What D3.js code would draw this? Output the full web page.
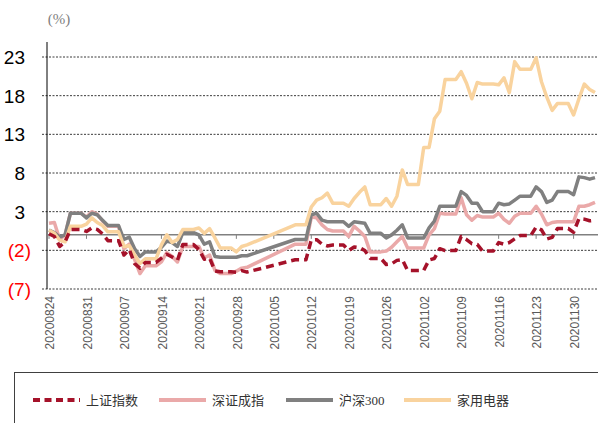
<!DOCTYPE html>
<html>
<head>
<meta charset="utf-8">
<script src="https://cdn.jsdelivr.net/npm/d3@7"></script>
<style>
  body { margin: 0; background: #fff; }
  svg { display: block; }
</style>
</head>
<body>
<svg id="svg"></svg>
<script>
// trading days shown on the chart
const dates = [
  "20200824","20200825","20200826","20200827","20200828",
  "20200831","20200901","20200902","20200903","20200904",
  "20200907","20200908","20200909","20200910","20200911",
  "20200914","20200915","20200916","20200917","20200918",
  "20200921","20200922","20200923","20200924","20200925",
  "20200928","20200929","20200930",
  "20201009",
  "20201012","20201013","20201014","20201015","20201016",
  "20201019","20201020","20201021","20201022","20201023",
  "20201026","20201027","20201028","20201029","20201030",
  "20201102","20201103","20201104","20201105","20201106",
  "20201109","20201110","20201111","20201112","20201113",
  "20201116","20201117","20201118","20201119","20201120",
  "20201123","20201124","20201125","20201126","20201127",
  "20201130","20201201","20201202","20201203","20201204"
];

// cumulative change, %
const shIndex = [
  0.15,-0.21,-1.51,-0.90,0.68,
  0.44,0.89,0.71,0.13,-0.75,
  -2.61,-1.90,-3.73,-4.31,-3.56,
  -3.01,-2.51,-2.86,-3.26,-1.26,
  -1.89,-3.15,-2.99,-4.66,-4.77,
  -4.83,-4.62,-4.81,
  -3.21,
  -0.66,-0.62,-1.20,-1.43,-1.31,
  -2.02,-1.56,-1.65,-2.03,-3.04,
  -3.83,-3.74,-3.30,-3.19,-4.62,
  -4.60,-3.24,-3.05,-1.79,-2.03,
  -0.21,-0.61,-1.14,-1.24,-2.09,
  -1.00,-1.21,-0.99,-0.52,-0.09,
  1.00,0.65,-0.54,-0.32,0.82,
  0.33,2.11,2.03,1.82,1.89
];
const szIndex = [
  1.5,1.6,-0.6,0.0,2.8,
  2.3,3.0,2.7,1.8,1.1,
  -1.8,-1.2,-3.2,-5.0,-4.0,
  -3.5,-2.3,-2.8,-3.5,-1.5,
  -1.5,-3.0,-2.6,-4.6,-5.0,
  -4.7,-4.3,-4.2,
  -1.2,
  2.3,2.2,1.3,0.7,0.5,
  -0.2,1.1,0.5,-0.2,-2.2,
  -2.1,-1.6,-0.9,-0.2,-1.7,
  -1.7,0.0,0.8,2.8,2.7,
  4.8,2.6,1.9,2.5,2.3,
  2.8,2.0,1.5,2.4,2.8,
  3.7,2.7,1.3,1.6,1.7,
  1.7,3.7,3.7,3.9,4.2
];
const hs300 = [
  0.6,0.3,-0.3,0.0,2.8,
  2.2,2.8,2.6,1.9,1.2,
  -0.6,-0.3,-1.8,-2.8,-2.2,
  -1.6,-0.8,-1.0,-1.5,0.3,
  0.0,-1.2,-0.9,-2.8,-2.9,
  -2.9,-2.7,-2.7,
  -0.6,
  2.6,2.8,1.9,1.7,1.7,
  1.1,1.7,1.6,1.5,0.2,
  -0.4,0.0,0.6,1.3,-0.4,
  -0.4,0.9,1.8,3.7,3.7,
  5.6,5.1,4.1,4.1,3.0,
  4.1,3.9,4.0,4.5,5.0,
  6.2,5.6,4.2,4.5,5.6,
  5.2,7.5,7.4,7.2,7.4
];
const appliances = [
  0.6,0.2,-0.7,-0.9,1.1,
  1.4,2.2,1.6,1.2,0.4,
  -1.5,-1.4,-2.6,-3.7,-3.1,
  -1.3,0.0,-1.0,-0.6,0.7,
  0.9,0.2,0.8,-0.4,-1.7,
  -2.2,-1.5,-1.3,
  1.3,
  3.6,4.5,4.8,5.4,4.1,
  3.7,4.7,5.5,6.2,3.9,
  4.7,3.7,5.0,8.4,6.5,
  11.3,11.3,15.0,16.0,20.1,
  21.1,19.6,17.6,19.7,19.5,
  19.4,20.3,18.4,22.4,21.4,
  22.9,19.8,17.8,16.1,17.0,
  15.5,17.6,19.5,18.8,18.4
];

const seriesNames = ["上证指数", "深证成指", "沪深300", "家用电器"];
const yTicks = [23, 18, 13, 8, 3, -2, -7];
const xTickLabels = [
  "20200824","20200831","20200907","20200914","20200921","20200928","20201005",
  "20201012","20201019","20201026","20201102","20201109","20201116","20201123","20201130"
];

const width = 598, height = 423;
const parse = d3.timeParse("%Y%m%d");

const x = d3.scaleTime()
  .domain([parse("20200824"), parse("20201204")])
  .range([49, 595]);
const y = d3.scaleLinear().domain([-7, 23]).range([289, 57]);

const svg = d3.select('#svg')
  .attr('width', width)
  .attr('height', height);

// grid
svg.selectAll('line.grid')
  .data(yTicks)
  .enter()
  .append('line')
    .attr('class', 'grid')
    .attr('x1', 42).attr('x2', 598)
    .attr('y1', d => y(d)).attr('y2', d => y(d))
    .attr('stroke', '#3a3a3a')
    .attr('stroke-width', 1)
    .attr('stroke-dasharray', '2,1.5');

svg.selectAll('text.ytick')
  .data(yTicks)
  .enter()
  .append('text')
    .attr('class', 'ytick')
    .attr('x', d => d < 0 ? 31 : 25)
    .attr('y', d => y(d))
    .attr('dy', '0.36em')
    .attr('text-anchor', 'end')
    .style('font-family', "'Liberation Sans Narrow', 'Liberation Sans', sans-serif")
    .style('font-size', '19px')
    .attr('fill', d => d < 0 ? '#ff0000' : '#000')
    .text(d => d < 0 ? `(${-d})` : d);

svg.append('text')
  .attr('x', 59).attr('y', 24)
  .attr('text-anchor', 'middle')
  .style('font-family', "'Liberation Serif', serif")
  .style('font-size', '15px')
  .attr('fill', '#7f7f7f')
  .text('(%)');

// y axis
svg.append('line')
  .attr('x1', 47).attr('x2', 47)
  .attr('y1', 42).attr('y2', 289)
  .attr('stroke', '#000').attr('stroke-width', 1);

// zero line with weekly ticks
const y0 = y(0);
svg.append('line')
  .attr('x1', 47).attr('x2', 598)
  .attr('y1', y0).attr('y2', y0)
  .attr('stroke', '#808080').attr('stroke-width', 1.5);

svg.selectAll('line.xtick')
  .data(xTickLabels)
  .enter()
  .append('line')
    .attr('class', 'xtick')
    .attr('x1', d => x(parse(d))).attr('x2', d => x(parse(d)))
    .attr('y1', y0).attr('y2', y0 + 4)
    .attr('stroke', '#808080').attr('stroke-width', 1);

svg.selectAll('text.xlabel')
  .data(xTickLabels)
  .enter()
  .append('text')
    .attr('class', 'xlabel')
    .attr('transform', d => `translate(${x(parse(d)) + 1},296) rotate(-90)`)
    .attr('dy', '0.35em')
    .attr('text-anchor', 'end')
    .style('font-family', "'Liberation Sans', sans-serif")
    .style('font-size', '12px')
    .attr('fill', '#595959')
    .text(d => d);

// lines: weekends carry Friday's value, holiday gap is joined straight
const DAY = 864e5;
function points(values) {
  const pts = [];
  dates.forEach((s, i) => {
    const d = parse(s);
    pts.push({ date: d, v: values[i] });
    if (i < dates.length - 1) {
      const next = parse(dates[i + 1]);
      if (Math.round((next - d) / DAY) === 3) {
        pts.push({ date: new Date(+d + 2 * DAY), v: values[i] });
      }
    }
  });
  return pts;
}

const line = d3.line().x(d => x(d.date)).y(d => y(d.v));

const series = [
  { name: seriesNames[0], values: shIndex, color: '#A5122A', dash: '8,5' },
  { name: seriesNames[1], values: szIndex, color: '#EAA9A9', dash: null },
  { name: seriesNames[2], values: hs300, color: '#808080', dash: null },
  { name: seriesNames[3], values: appliances, color: '#F9D39E', dash: null }
];

// draw order: pink, gray, orange, then dashed red on top
[1, 2, 3, 0].forEach(k => {
  const s = series[k];
  svg.append('path')
    .datum(points(s.values))
    .attr('d', line)
    .attr('fill', 'none')
    .attr('stroke', s.color)
    .attr('stroke-width', 3.5)
    .attr('stroke-linejoin', 'round')
    .attr('stroke-dasharray', s.dash);
});

// legend
svg.append('rect')
  .attr('x', 14.5).attr('y', 372.5)
  .attr('width', 600).attr('height', 60)
  .attr('fill', 'none')
  .attr('stroke', '#404040').attr('stroke-width', 1);

const legendX = [33, 159, 286, 404];
const legend = svg.selectAll('g.legend')
  .data(series)
  .enter()
  .append('g')
    .attr('class', 'legend')
    .attr('transform', (d, i) => `translate(${legendX[i]},400)`);

legend.append('line')
  .attr('x1', 0).attr('x2', 47)
  .attr('y1', 0).attr('y2', 0)
  .attr('stroke', d => d.color)
  .attr('stroke-width', 4)
  .attr('stroke-dasharray', d => d.dash ? '7,4.5' : null);

legend.append('text')
  .attr('x', 53).attr('y', 0)
  .attr('dy', '0.36em')
  .style('font-family', "'Liberation Serif', 'Noto Sans CJK SC', serif")
  .style('font-size', '13px')
  .attr('fill', '#333')
  .text(d => d.name);
</script>
</body>
</html>
